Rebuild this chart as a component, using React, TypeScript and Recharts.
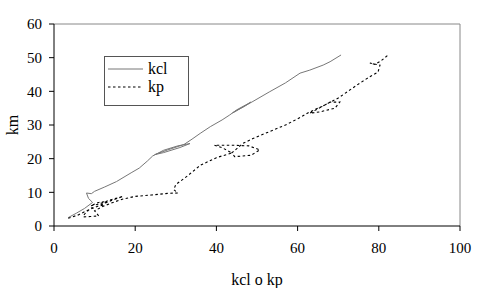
import React from 'react';
import { LineChart, Line, XAxis, YAxis, ReferenceLine } from 'recharts';

const kclX = [3.5, 5.5, 7.5, 9.5, 8.5, 8, 9.2, 10, 12.5, 15.4, 19, 21, 23, 24.3, 27, 30.5, 33.5, 31, 27, 24.8, 28, 32, 34, 36, 38.5, 41.4, 43.3, 45, 48.5, 47, 44, 46, 49, 53, 57, 60.6, 63, 66.3, 68, 70.7];
const kclY = [2.5, 3.8, 5.2, 7, 8.2, 9.8, 9.6, 10.3, 11.6, 13.2, 15.8, 17.2, 19.3, 20.8, 22.5, 23.8, 24.5, 23.3, 21.8, 21.2, 22.6, 24.2, 25.8, 27.5, 29.5, 31.5, 33, 34.5, 36.8, 35.6, 33.6, 35, 37, 39.8, 42.5, 45.4, 46.3, 47.8, 48.8, 50.8];

const kpX = [3.5, 6, 8, 10, 12, 14, 17, 14, 11, 9, 11, 13, 12, 9, 7.5, 7.2, 9, 11, 10, 11.5, 14, 17, 20, 24, 28, 30.5, 29.5, 30, 33, 36, 40, 43.8, 41.5, 39.5, 44, 48, 50.7, 48.5, 44.5, 43.8, 46.5, 49, 53, 57, 60.6, 63, 66, 68, 70.4, 69.2, 65.5, 63, 66, 70, 73, 75.4, 78, 79.8, 80.3, 77.8, 79, 80.5, 82.3];
const kpY = [2.3, 3.3, 4.5, 5.5, 6.5, 7.5, 8.8, 7.8, 6.5, 6, 7, 7.3, 6.2, 5.3, 3.5, 2.7, 2.8, 3, 4.5, 5.5, 6.8, 8, 8.8, 9.2, 9.7, 9.8, 10.8, 12.3, 15, 18, 20.3, 21.7, 23.2, 24, 24, 23.8, 22.6, 21, 20.6, 21.7, 24.5, 26, 28, 30, 32.2, 33.9, 35.5, 36.8, 36.8, 35, 33.9, 33.5, 35.5, 38, 40.5, 42.5, 44.5, 45.7, 47.8, 48.4, 48, 49, 50.8];

const xTicks = [0, 20, 40, 60, 80, 100];
const yTicks = [0, 10, 20, 30, 40, 50, 60];

const kclData = kclX.map((x, i) => ({ x, y: kclY[i] }));
const kpData = kpX.map((x, i) => ({ x, y: kpY[i] }));

const font = '"Liberation Serif", serif';

const App = () => {
  return (
    <div style={{ position: 'absolute', left: 0, top: 0, width: 479, height: 288, background: '#fff', fontFamily: font }}>
      <LineChart width={479} height={288} margin={{ top: 24, right: 19, left: 0, bottom: 0 }}>
        <XAxis
          type="number"
          dataKey="x"
          domain={[0, 100]}
          ticks={xTicks}
          tickSize={5}
          tickMargin={11}
          height={62}
          stroke="#000"
          tick={{ fontFamily: font, fontSize: 15, fill: '#000' }}
          label={{ value: 'kcl o kp', position: 'insideBottom', offset: 3, style: { fontFamily: font, fontSize: 16, fill: '#000' } }}
        />
        <YAxis
          type="number"
          dataKey="y"
          domain={[0, 60]}
          ticks={yTicks}
          tickSize={5}
          tickMargin={7}
          width={54}
          stroke="#000"
          tick={{ fontFamily: font, fontSize: 15, fill: '#000' }}
          label={{ value: 'km', angle: -90, position: 'insideLeft', offset: 12, style: { fontFamily: font, fontSize: 16, fill: '#000', textAnchor: 'middle' } }}
        />
        <ReferenceLine y={60} stroke="#888" />
        <ReferenceLine x={100} stroke="#888" />
        <Line
          data={kclData}
          dataKey="y"
          name="kcl"
          type="linear"
          stroke="#777"
          strokeWidth={1}
          dot={false}
          isAnimationActive={false}
        />
        <Line
          data={kpData}
          dataKey="y"
          name="kp"
          type="linear"
          stroke="#000"
          strokeWidth={1.1}
          strokeDasharray="2.5 2.5"
          dot={false}
          isAnimationActive={false}
        />
      </LineChart>
      <div style={{ position: 'absolute', left: 104, top: 56, width: 85, height: 50, border: '1px solid #555', boxSizing: 'border-box', background: '#fff' }}>
        <svg width={83} height={48} style={{ display: 'block' }}>
          <line x1={3} y1={12} x2={38} y2={12} stroke="#777" strokeWidth={1} />
          <text x={43} y={17} fontFamily={font} fontSize={16} fill="#000">kcl</text>
          <line x1={3} y1={30} x2={38} y2={30} stroke="#000" strokeWidth={1.1} strokeDasharray="2.5 2.5" />
          <text x={43} y={35} fontFamily={font} fontSize={16} fill="#000">kp</text>
        </svg>
      </div>
    </div>
  );
};

export default App;
